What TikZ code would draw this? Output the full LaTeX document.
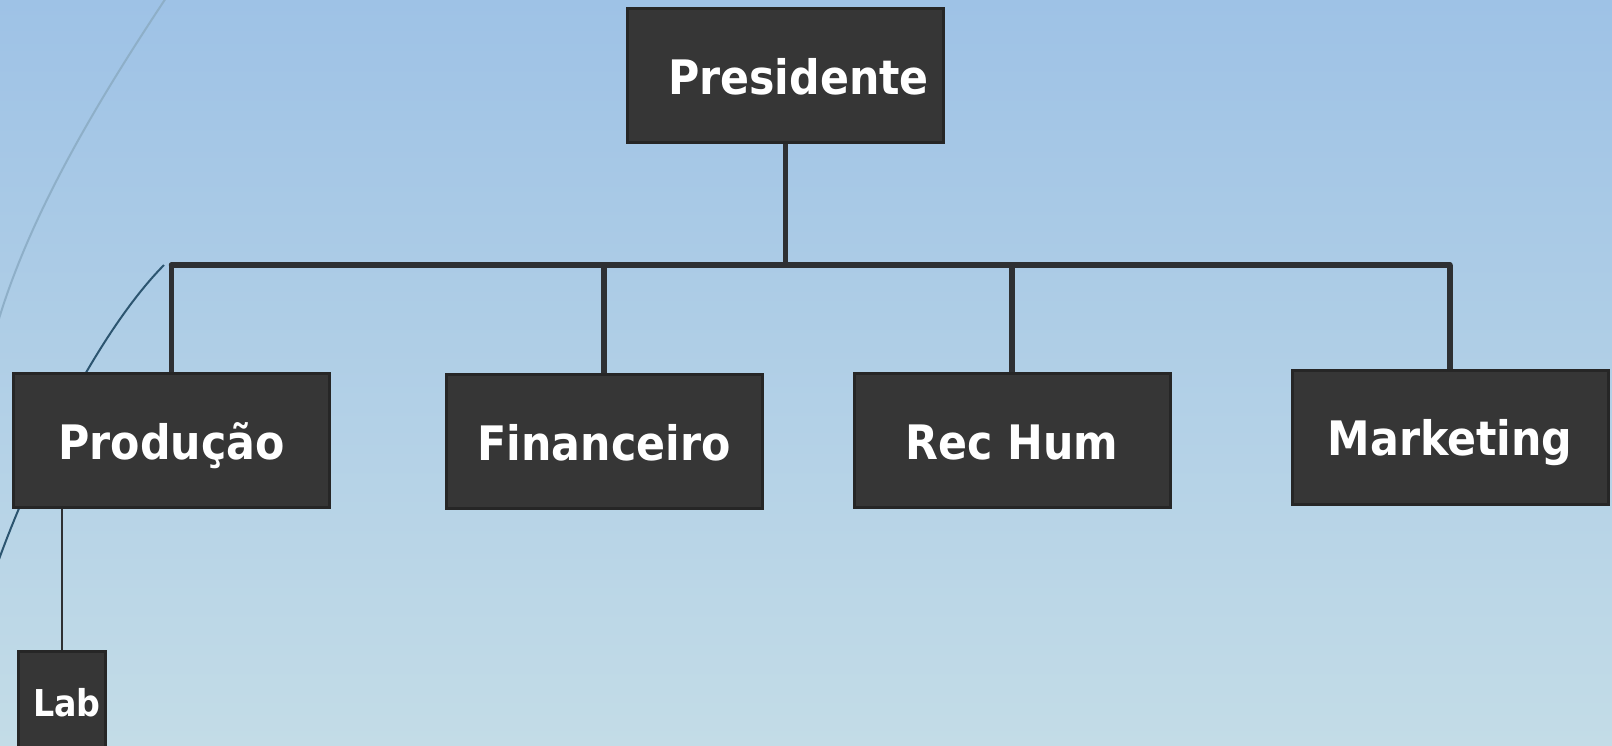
\documentclass[tikz,border=0pt]{standalone}
\usepackage{fontspec}
\newfontfamily\boxfont{DejaVu Sans Condensed}
\definecolor{bgtop}{HTML}{9EC2E6}
\definecolor{bgbot}{HTML}{C3DCE7}
\definecolor{boxfill}{HTML}{363636}
\definecolor{boxline}{HTML}{262626}
\definecolor{conn}{HTML}{2E3033}
\definecolor{arclight}{HTML}{8EAFC8}
\definecolor{arcdark}{HTML}{2C5570}
\newcommand{\boxtext}[2]{\raisebox{#1}[\height][\depth]{#2}}
\begin{document}
\begin{tikzpicture}[x=1pt,y=-1pt,
  orgbox/.style={draw=boxline, line width=3pt, fill=boxfill, text=white,
    font=\boxfont\bfseries\fontsize{47.5}{50}\selectfont,
    minimum width=316pt, minimum height=134pt, inner sep=0pt},
  smallbox/.style={orgbox, font=\boxfont\bfseries\fontsize{37}{40}\selectfont,
    minimum width=87pt, minimum height=120pt},
  thickconn/.style={draw=conn, line width=5.5pt},
  thinconn/.style={draw=conn, line width=2pt}]
\clip (0,0) rectangle (1612,745);
\shade[top color=bgtop, bottom color=bgbot] (0,0) rectangle (1612,745);
% decorative arcs
\draw[arclight, line width=2pt] (166,-2) .. controls (95,105) and (30,215) .. (-2,322);
\draw[arcdark, line width=2pt] (164,265) .. controls (100,330) and (35,460) .. (-2,562);
% boxes
\node[orgbox] (pres) at (785.5,75.5) {\hspace{26pt}\boxtext{-1pt}{Presidente}};
\node[orgbox] (prod) at (171.5,440.5) {\boxtext{-5pt}{Produção}};
\node[orgbox] (fin) at (604,441.5) {\boxtext{-1pt}{Financeiro}};
\node[orgbox] (rh) at (1012,440.5) {\boxtext{-2pt}{Rec Hum}};
\node[orgbox] (mkt) at (1450,437.5) {\boxtext{-5pt}{Marketing}};
% connectors
\coordinate (barL) at (prod.north |- 0,265);
\coordinate (barR) at (mkt.north |- 0,265);
\draw[thickconn] (pres.south) -- (pres.south |- barL);
\draw[thickconn, line cap=round] (barL) -- (barR);
\draw[thickconn] (barL) -- (prod.north);
\draw[thickconn] (fin.north |- barL) -- (fin.north);
\draw[thickconn] (rh.north |- barL) -- (rh.north);
\draw[thickconn] (barR) -- (mkt.north);
\node[smallbox] (lab) at (62,711) {\hspace{10pt}\raisebox{17pt}{Lab}};
\draw[thinconn] (prod.south -| lab.north) -- (lab.north);
\end{tikzpicture}
\end{document}
